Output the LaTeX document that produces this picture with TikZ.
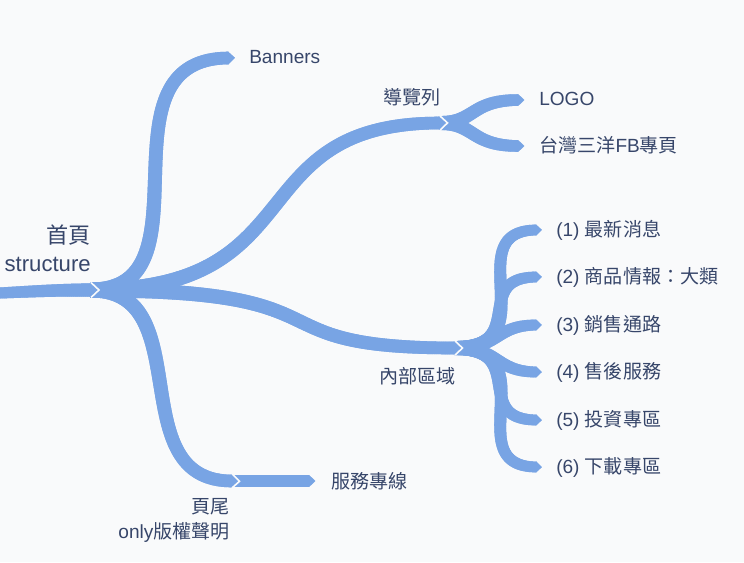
\documentclass[tikz,border=0pt]{standalone}
\usepackage{fontspec}
\setmainfont{Liberation Sans}
\newfontfamily\cjk{Noto Sans CJK TC}
\usepackage{tikz}
\usetikzlibrary{decorations.markings}
\definecolor{branchBlue}{HTML}{78A4E4}
\definecolor{labelInk}{HTML}{37466A}
\definecolor{pageTint}{HTML}{F9FAFB}
\tikzset{
  branch/.style 2 args={
    postaction={decorate, decoration={markings,
      mark=between positions 0 and 1 step 0.5pt with {
        \pgfmathsetmacro\halfw{(#1+(#2-#1)*\pgfkeysvalueof{/pgf/decoration/mark info/distance from start}/\pgfdecoratedpathlength)/2}
        \fill[branchBlue] (-0.5pt,-\halfw pt) rectangle (0.5pt,\halfw pt);
      }}},
    postaction={decorate, decoration={markings,
      mark=at position 0.99 with {
        \pgfmathsetmacro\tipx{0.01*\pgfdecoratedpathlength}
        \begin{scope}[xshift=\tipx pt]
          \fill[branchBlue] (-1pt,#2/2) -- (0pt,#2/2) -- (0.6*#2,0pt) -- (0pt,-#2/2) -- (-1pt,-#2/2) -- cycle;
          \draw[pageTint,line width=1.2pt] (0pt,#2/2+0.6pt) -- (0.6*#2,0pt) -- (0pt,-#2/2-0.6pt);
        \end{scope}
      }}}
  },
}

\begin{document}
\begin{tikzpicture}[
  x=0.75pt, y=-0.75pt,
  leaf label/.style={inner sep=0pt, text=labelInk, font=\fontsize{14.3}{18.75}\selectfont},
  root label/.style={inner sep=0pt, text=labelInk, align=right, anchor=east, font=\fontsize{16.6}{21}\selectfont},
]
\path[use as bounding box, fill=pageTint] (0,0) rectangle (744,562);

\coordinate (trunk) at (0,293);
\coordinate (j0) at (91,290);
\coordinate (banners end) at (229,58);
\coordinate (j1) at (440,123);
\coordinate (j2) at (455,348);
\coordinate (j3) at (232,481);
\coordinate (logo end) at (519,100);
\coordinate (fb end) at (519,146);
\coordinate (hotline end) at (310,481);

% inner area items
\foreach \k/\y/\a/\b/\txt in {1/230/549/456/最新消息, 2/277/530/470/商品情報：大類, 3/325/500/495/銷售通路,
                               4/372/500/495/售後服務, 5/420/530/470/投資專區, 6/467/549/456/下載專區} {
  \coordinate (sub\k) at (537,\y);
  \path[branch={10.5pt}{8pt}] (j2) .. controls (\a,348) and (\b,\y) .. (sub\k);
  \node[leaf label, anchor=west] (item\k) at (556,\y) {(\k) {\cjk \txt}};
}

\path[branch={10.5pt}{8.6pt}] (j1) .. controls (475,123) and (470,100) .. (logo end);
\path[branch={10.5pt}{8.6pt}] (j1) .. controls (475,123) and (470,146) .. (fb end);
\path[branch={8.6pt}{8.6pt}] (j3) -- (hotline end);

\path[branch={11.25pt}{9.4pt}] (j0) .. controls (215,290) and (92,58) .. (banners end);
\path[branch={11.25pt}{9.4pt}] (j0) .. controls (317,290) and (237,123) .. (j1);
\path[branch={11.25pt}{9.4pt}] (j0) .. controls (362,290) and (243,348) .. (j2);
\path[branch={11.25pt}{9.4pt}] (j0) .. controls (200,290) and (120,481) .. (j3);

\path[branch={8.25pt}{10pt}] (trunk) .. controls (40,291) and (60,290) .. (j0);

\node[root label] (root) at (91,248) {{\cjk 首頁}\\structure};
\node[leaf label, anchor=west] (banners) at (249,57) {Banners};
\node[leaf label, anchor=east] (navbar) at (441,97) {\cjk 導覽列};
\node[leaf label, anchor=west] (logo) at (539,99) {LOGO};
\node[leaf label, anchor=west] (fbpage) at (539,145) {{\cjk 台灣三洋}FB{\cjk 專頁}};
\node[leaf label, anchor=east] (inner) at (456,376) {\cjk 內部區域};
\node[leaf label, anchor=west] (hotline) at (331,481) {\cjk 服務專線};
\node[leaf label, anchor=east, align=right] (footer) at (230,520.5) {{\cjk 頁尾}\\only{\cjk 版權聲明}};
\end{tikzpicture}
\end{document}
